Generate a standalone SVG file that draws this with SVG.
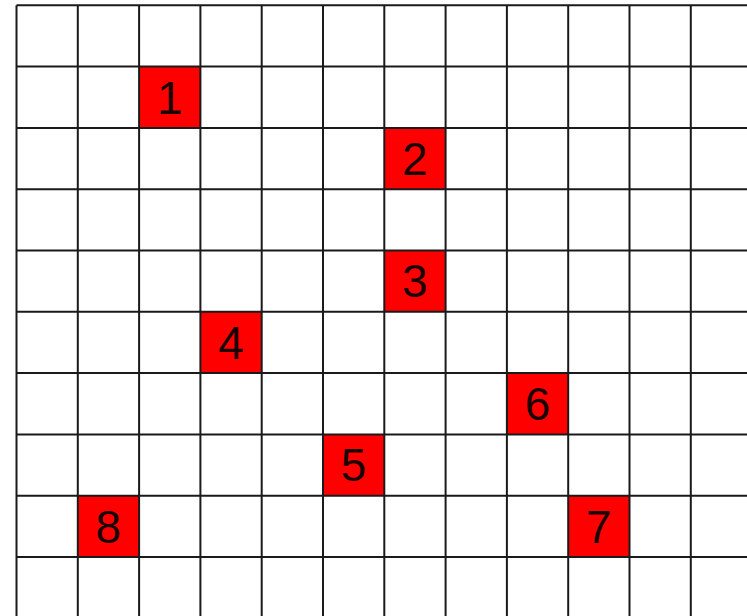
<svg xmlns="http://www.w3.org/2000/svg" width="747" height="616" viewBox="0 0 747 616">
<style>
.grid line{stroke:#1a1a1a;stroke-width:2}
.cell{fill:#ff0000}
.lbl{font-family:"Liberation Sans",Arial,sans-serif;font-size:46px;fill:#1a0000;text-anchor:middle}
</style>
<rect width="747" height="616" fill="#ffffff"/>
<g id="cells">
<g id="n1"><rect class="cell" x="139.1" y="66.6" width="61.3" height="61.3"/><text class="lbl" x="169.7" y="113.5">1</text></g>
<g id="n2"><rect class="cell" x="384.3" y="127.9" width="61.3" height="61.3"/><text class="lbl" x="414.9" y="174.8">2</text></g>
<g id="n3"><rect class="cell" x="384.3" y="250.5" width="61.3" height="61.3"/><text class="lbl" x="414.9" y="297.4">3</text></g>
<g id="n4"><rect class="cell" x="200.4" y="311.8" width="61.3" height="61.3"/><text class="lbl" x="231" y="358.7">4</text></g>
<g id="n5"><rect class="cell" x="323" y="434.4" width="61.3" height="61.3"/><text class="lbl" x="353.6" y="481.3">5</text></g>
<g id="n6"><rect class="cell" x="506.9" y="373.1" width="61.3" height="61.3"/><text class="lbl" x="537.5" y="420">6</text></g>
<g id="n7"><rect class="cell" x="568.2" y="495.7" width="61.3" height="61.3"/><text class="lbl" x="598.8" y="542.6">7</text></g>
<g id="n8"><rect class="cell" x="77.8" y="495.7" width="61.3" height="61.3"/><text class="lbl" x="108.4" y="542.6">8</text></g>
</g>
<g id="grid" class="grid">
<line x1="16.5" y1="5.3" x2="16.5" y2="616"/>
<line x1="77.8" y1="5.3" x2="77.8" y2="616"/>
<line x1="139.1" y1="5.3" x2="139.1" y2="616"/>
<line x1="200.4" y1="5.3" x2="200.4" y2="616"/>
<line x1="261.7" y1="5.3" x2="261.7" y2="616"/>
<line x1="323" y1="5.3" x2="323" y2="616"/>
<line x1="384.3" y1="5.3" x2="384.3" y2="616"/>
<line x1="445.6" y1="5.3" x2="445.6" y2="616"/>
<line x1="506.9" y1="5.3" x2="506.9" y2="616"/>
<line x1="568.2" y1="5.3" x2="568.2" y2="616"/>
<line x1="629.5" y1="5.3" x2="629.5" y2="616"/>
<line x1="690.8" y1="5.3" x2="690.8" y2="616"/>
<line x1="16.5" y1="5.3" x2="747" y2="5.3"/>
<line x1="16.5" y1="66.6" x2="747" y2="66.6"/>
<line x1="16.5" y1="127.9" x2="747" y2="127.9"/>
<line x1="16.5" y1="189.2" x2="747" y2="189.2"/>
<line x1="16.5" y1="250.5" x2="747" y2="250.5"/>
<line x1="16.5" y1="311.8" x2="747" y2="311.8"/>
<line x1="16.5" y1="373.1" x2="747" y2="373.1"/>
<line x1="16.5" y1="434.4" x2="747" y2="434.4"/>
<line x1="16.5" y1="495.7" x2="747" y2="495.7"/>
<line x1="16.5" y1="557" x2="747" y2="557"/>
</g>
</svg>
